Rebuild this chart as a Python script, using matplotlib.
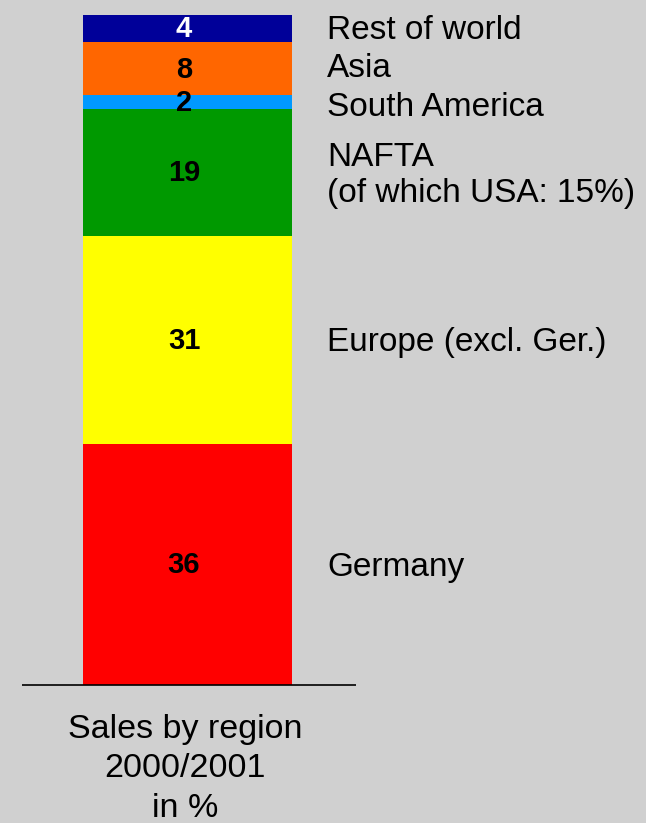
#!/usr/bin/env python3
"""Stacked single bar: sales by region 2000/2001 in %."""

import matplotlib

matplotlib.use("Agg")
import matplotlib.pyplot as plt
import numpy as np

regions = ["Germany", "Europe (excl. Ger.)", "NAFTA\n(of which USA: 15%)",
           "South America", "Asia", "Rest of world"]
shares = [36, 31, 19, 2, 8, 4]
colors = ["#FF0000", "#FFFF00", "#009900", "#0099FF", "#FF6600", "#000099"]
value_colors = ["black", "black", "black", "black", "black", "white"]
caption = "Sales by region\n2000/2001\nin %"

BG = "#D0D0D0"
PX = 6.7  # pixels per percentage point

fig = plt.figure(figsize=(6.46, 8.23), dpi=100, facecolor=BG)
ax = fig.add_axes([0, 0, 1, 1])
ax.set_facecolor(BG)
ax.set_xlim(0, 646)
ax.set_ylim(-(823 - 685) / PX, 100 + 15 / PX)
ax.axis("off")

bottoms = np.concatenate([[0], np.cumsum(shares)[:-1]])
ax.bar(187.5, shares, bottom=bottoms, width=209, color=colors, linewidth=0)
ax.plot([22, 356], [0, 0], color="black", linewidth=1.2, solid_capstyle="butt")

# small nudges (in % units) so the stacked top labels don't collide
label_shift = [-0.45, -0.45, -0.45, -0.75, 0.0, -0.25]
for reg, val, b, vc, sh in zip(regions, shares, bottoms, value_colors, label_shift):
    mid = b + val / 2
    ax.text(184, mid - 0.15, str(val), ha="center", va="center", fontsize=21,
            fontweight="bold", color=vc, family="Liberation Sans")
    ax.text(327, mid + sh, reg, ha="left", va="center", fontsize=24,
            color="black", family="Liberation Sans", linespacing=1.2)

ax.text(185, -(714 - 685) / PX, caption, ha="center", va="top", fontsize=24.5,
        color="black", family="Liberation Sans", linespacing=1.35)

fig.savefig("out.png", dpi=100, facecolor=BG)
